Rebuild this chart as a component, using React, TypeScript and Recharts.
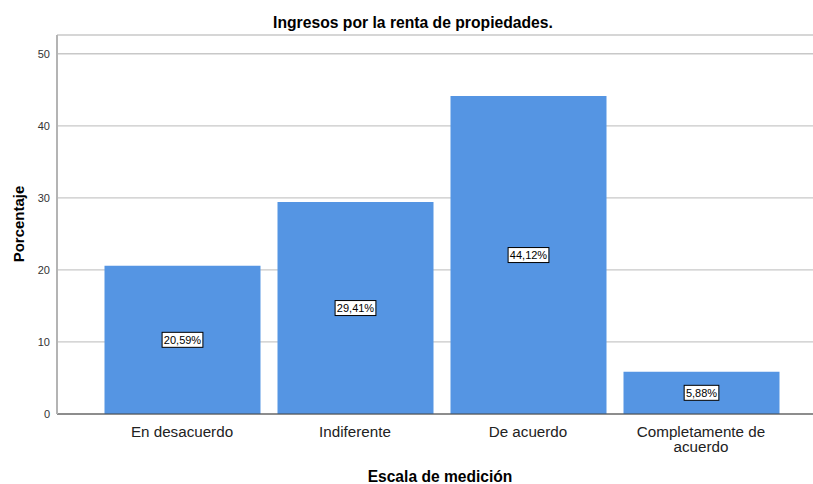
import React from 'react';
import { BarChart, Bar, XAxis, YAxis, CartesianGrid, LabelList } from 'recharts';

const categories = ['En desacuerdo', 'Indiferente', 'De acuerdo', 'Completamente de acuerdo'];
const percentages = [20.59, 29.41, 44.12, 5.88];
const yTicks = [0, 10, 20, 30, 40, 50];
const titleText = 'Ingresos por la renta de propiedades.';
const xLabelText = 'Escala de medición';
const yLabelText = 'Porcentaje';

const data = categories.map((c, i) => ({ category: c, value: percentages[i] }));

const FONT = '"Liberation Sans", Arial, sans-serif';
const BAR_COLOR = '#5595e3';

const fmt = (v: number) => v.toFixed(2).replace('.', ',') + '%';

const wrap = (s: string, max: number) => {
  const words = s.split(' ');
  const lines: string[] = [];
  let cur = '';
  words.forEach((w) => {
    const next = cur ? cur + ' ' + w : w;
    if (next.length > max && cur) {
      lines.push(cur);
      cur = w;
    } else cur = next;
  });
  if (cur) lines.push(cur);
  return lines;
};

const XTick = (props: any) => {
  const { x, y, payload } = props;
  const lines = wrap(String(payload.value), 16);
  return (
    <text x={x} y={y} textAnchor="middle" fontFamily={FONT} fontSize={15.2} fill="#222">
      {lines.map((l, i) => (
        <tspan key={i} x={x} y={y + 22.5 + i * 15.5}>
          {l}
        </tspan>
      ))}
    </text>
  );
};

const ValueLabel = (props: any) => {
  const { x, y, width, height, value } = props;
  const txt = fmt(Number(value));
  const fs = 11;
  let em = 0;
  for (const ch of txt) em += ch === ',' ? 0.278 : ch === '%' ? 0.889 : 0.556;
  const w = em * fs + 3.5;
  const h = 15;
  const cx = x + width / 2;
  const cy = y + height / 2;
  return (
    <g>
      <rect x={cx - w / 2} y={cy - h / 2} width={w} height={h} fill="#fff" stroke="#000" strokeWidth={1} />
      <text x={cx} y={cy + 4} textAnchor="middle" fontFamily={FONT} fontSize={fs} fill="#000">
        {txt}
      </text>
    </g>
  );
};

export default function App() {
  return (
    <div style={{ position: 'absolute', left: 0, top: 0, width: 813, height: 484, background: '#fff' }}>
      <svg width={813} height={40} style={{ position: 'absolute', left: 0, top: 0 }}>
        <text x={413} y={28} textAnchor="middle" fontFamily={FONT} fontSize={15.7} fontWeight="bold" fill="#000">
          {titleText}
        </text>
      </svg>
      <div style={{ position: 'absolute', left: 0, top: 0 }}>
        <BarChart width={813} height={484} data={data} margin={{ top: 35, right: 0, bottom: 0, left: 0 }}>
          <CartesianGrid vertical={false} stroke="#c8c8c8" strokeWidth={1.3} />
          <XAxis
            dataKey="category"
            height={70}
            padding={{ left: 38.5, right: 25.5 }}
            tickLine={false}
            tickSize={0}
            tickMargin={0}
            interval={0}
            stroke="#444"
            tick={<XTick />}
            label={{
              content: () => (
                <text x={440} y={481.5} textAnchor="middle" fontFamily={FONT} fontSize={15.6} fontWeight="bold" fill="#000">
                  {xLabelText}
                </text>
              ),
            }}
          />
          <YAxis
            width={57}
            domain={[0, 52.6]}
            ticks={yTicks}
            interval={0}
            tickLine={false}
            tickSize={0}
            tickMargin={7}
            stroke="#b4b4b4"
            strokeWidth={2}
            tick={{ fontFamily: FONT, fontSize: 11, fill: '#333' }}
            allowDataOverflow
            label={{
              content: () => (
                <text
                  x={23.5}
                  y={224}
                  transform="rotate(-90 23.5 224)"
                  textAnchor="middle"
                  fontFamily={FONT}
                  fontSize={15}
                  fontWeight="bold"
                  fill="#000"
                >
                  {yLabelText}
                </text>
              ),
            }}
          />
          <Bar dataKey="value" fill={BAR_COLOR} barSize={156} isAnimationActive={false}>
            <LabelList dataKey="value" content={<ValueLabel />} />
          </Bar>
        </BarChart>
      </div>
    </div>
  );
}
